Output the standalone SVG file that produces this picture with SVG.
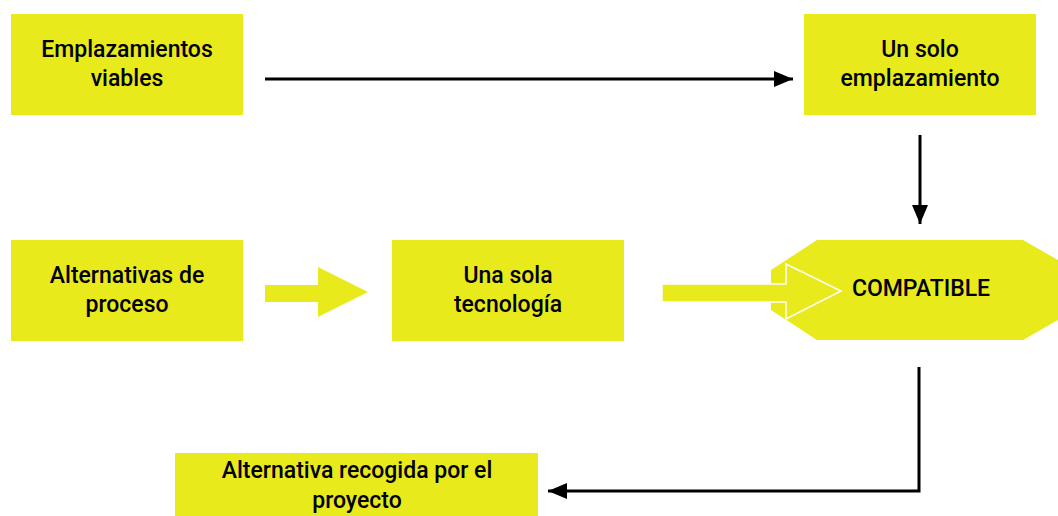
<svg xmlns="http://www.w3.org/2000/svg" width="1058" height="516" viewBox="0 0 1058 516">
<defs>
<style>
.box{fill:#e8ea1c}
.t{font-family:Roboto,"Liberation Sans",Arial,sans-serif;font-weight:500;font-size:23px;fill:#000;text-anchor:middle}
.ln{fill:none;stroke:#000;stroke-width:3}
</style>
<marker id="ah" markerWidth="19" markerHeight="16" refX="19" refY="8" orient="auto" markerUnits="userSpaceOnUse">
<path d="M0,0 L19,8 L0,16 Z" fill="#000"/>
</marker>
</defs>
<rect width="1058" height="516" fill="#fff"/>
<g id="n1"><rect class="box" x="11" y="14" width="232" height="101"/><text class="t" x="127" y="57">Emplazamientos</text><text class="t" x="127" y="86">viables</text></g>
<g id="n2"><rect class="box" x="804" y="14" width="232" height="101"/><text class="t" x="920" y="57">Un solo</text><text class="t" x="920" y="86">emplazamiento</text></g>
<g id="n3"><rect class="box" x="11" y="240" width="232" height="101"/><text class="t" x="127" y="283">Alternativas de</text><text class="t" x="127" y="312">proceso</text></g>
<g id="n4"><rect class="box" x="392" y="240" width="232" height="101"/><text class="t" x="508" y="283">Una sola</text><text class="t" x="508" y="312">tecnología</text></g>
<g id="n5"><polygon class="box" points="817,240 1023,240 1058,260 1058,320 1023,340 817,340 771,310 771,270"/><text class="t" x="921" y="296">COMPATIBLE</text></g>
<g id="n6"><rect class="box" x="175" y="453" width="363" height="63"/><text class="t" x="357" y="478">Alternativa recogida por el</text><text class="t" x="357" y="508">proyecto</text></g>
<g id="connectors">
<line class="ln" x1="265" y1="79" x2="793" y2="79" marker-end="url(#ah)"/>
<line class="ln" x1="920" y1="135" x2="920" y2="224" marker-end="url(#ah)"/>
<polyline class="ln" points="919,367 919,491 548,491" marker-end="url(#ah)"/>
<polygon class="box" points="265,285 318,285 318,267 368,292 318,317 318,302 265,302"/>
<polygon class="box" points="662,284 786,284 786,264 841,291 786,319 786,302 662,302" stroke="#fff" stroke-width="1.5"/>
</g>
</svg>
